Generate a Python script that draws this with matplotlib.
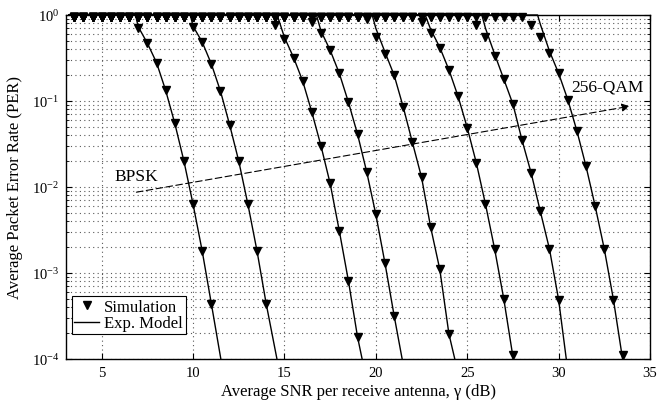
import numpy as np
import matplotlib
matplotlib.use("Agg")
import matplotlib.pyplot as plt
from matplotlib.lines import Line2D
from matplotlib.ticker import FixedLocator, FixedFormatter, LogLocator, NullFormatter

plt.rcParams['font.family'] = ['Liberation Serif', 'DejaVu Serif']
plt.rcParams['mathtext.fontset'] = 'custom'
plt.rcParams['mathtext.rm'] = 'Liberation Serif'
plt.rcParams['mathtext.it'] = 'Liberation Serif:italic'

# ---- data ----
sim_first_snr = 3.5          # first simulated SNR (dB), step 0.5 dB
sim_step = 0.5
sim_flat_per = 0.95          # PER of the saturated (top-row) simulation points
# SNR where each curve leaves the top row (simulation markers)
sim_drop_snr = [7.0, 10.0, 14.5, 16.5, 19.5, 22.5, 25.5, 28.5]
sim_drop_per = [
    [0.71, 0.47, 0.28, 0.133, 0.055, 0.02, 0.0063, 0.0018, 4.4e-4],
    [0.72, 0.485, 0.27, 0.13, 0.053, 0.02, 0.0063, 0.0018, 4.4e-4],
    [0.76, 0.53, 0.32, 0.17, 0.074, 0.030, 0.011, 0.0031, 8.1e-4, 1.8e-4],
    [0.83, 0.61, 0.39, 0.21, 0.097, 0.041, 0.015, 0.0048, 0.0013, 3.2e-4],
    [0.9, 0.55, 0.35, 0.2, 0.085, 0.033, 0.013, 0.0034, 0.0011, 1.95e-4],
    [0.83, 0.62, 0.41, 0.23, 0.113, 0.049, 0.019, 0.0063, 0.0019, 5e-4, 1.1e-4],
    [0.76, 0.55, 0.33, 0.18, 0.092, 0.035, 0.0145, 0.0052, 0.0019, 4.9e-4],
    [0.76, 0.55, 0.36, 0.21, 0.104, 0.045, 0.0174, 0.006, 0.0019, 4.9e-4, 1.1e-4],
]

model_snr = [
    [3.2, 6.85, 7.0, 7.5, 8.0, 8.5, 9.0, 9.5, 10.0, 10.5, 11.0, 11.52],
    [3.2, 9.85, 10.0, 10.5, 11.0, 11.5, 12.0, 12.5, 13.0, 13.5, 14.0, 14.59],
    [3.2, 14.6, 15.0, 15.5, 16.0, 16.5, 17.0, 17.5, 18.0, 18.5, 19.0, 19.25],
    [3.2, 16.75, 17.0, 17.5, 18.0, 18.5, 19.0, 19.5, 20.0, 20.5, 21.0, 21.44],
    [3.2, 19.8, 20.0, 20.5, 21.0, 21.5, 22.0, 22.5, 23.0, 23.5, 24.0, 24.32],
    [3.2, 22.7, 23.0, 23.5, 24.0, 24.5, 25.0, 25.5, 26.0, 26.5, 27.0, 27.52],
    [3.2, 25.8, 26.0, 26.5, 27.0, 27.5, 28.0, 28.5, 29.0, 29.5, 30.0, 30.42],
    [3.2, 28.85, 29.0, 29.5, 30.0, 30.5, 31.0, 31.5, 32.0, 32.5, 33.0, 33.5],
]
model_per = [
    [1, 1, 0.73, 0.47, 0.28, 0.133, 0.055, 0.02, 0.0063, 0.0018, 4.4e-4, 1e-4],
    [1, 1, 0.74, 0.485, 0.27, 0.13, 0.053, 0.02, 0.0063, 0.0018, 4.4e-4, 1e-4],
    [1, 1, 0.55, 0.32, 0.17, 0.074, 0.030, 0.011, 0.0031, 8.1e-4, 1.8e-4, 1e-4],
    [1, 1, 0.65, 0.39, 0.21, 0.097, 0.041, 0.015, 0.0048, 0.0013, 3.2e-4, 1e-4],
    [1, 1, 0.70, 0.37, 0.2, 0.085, 0.033, 0.013, 0.0034, 0.0011, 1.95e-4, 1e-4],
    [1, 1, 0.68, 0.42, 0.23, 0.113, 0.049, 0.019, 0.0063, 0.0019, 5e-4, 1e-4],
    [1, 1, 0.70, 0.35, 0.18, 0.092, 0.035, 0.0145, 0.0052, 0.0019, 4.9e-4, 1e-4],
    [1, 1, 0.78, 0.38, 0.21, 0.104, 0.045, 0.0174, 0.006, 0.0019, 4.9e-4, 1e-4],
]

arrow_start = (6.9, 0.0087)
arrow_end = (33.9, 0.087)
label_bpsk = ("BPSK", 5.7, 0.0133)
label_256 = ("256-QAM", 30.7, 0.147)

x_ticks = [5, 10, 15, 20, 25, 30, 35]
y_ticks = [1e-4, 1e-3, 1e-2, 1e-1, 1e0]
y_tick_labels = [r'$10^{-4}$', r'$10^{-3}$', r'$10^{-2}$', r'$10^{-1}$', r'$10^{0}$']

# ---- figure ----
fig = plt.figure(figsize=(6.67, 4.06), dpi=100)
ax = fig.add_axes([0.099, 0.1133, 0.8755, 0.8473])

for d0, dper, msnr, mper in zip(sim_drop_snr, sim_drop_per, model_snr, model_per):
    flat_x = np.arange(sim_first_snr, d0 - 1e-9, sim_step)
    drop_x = d0 + sim_step * np.arange(len(dper))
    sx = np.concatenate([flat_x, drop_x])
    sy = np.concatenate([np.full_like(flat_x, sim_flat_per), np.array(dper)])
    ax.plot(msnr, mper, color='k', lw=1.0, zorder=3, clip_on=False)
    ax.plot(sx, sy, linestyle='none', marker='v', color='k', ms=6, zorder=4,
            clip_on=False)

ax.set_yscale('log')
ax.set_xlim(3.05, 35)
ax.set_ylim(1e-4, 1)

ax.xaxis.set_major_locator(FixedLocator(x_ticks))
ax.set_xticklabels([str(t) for t in x_ticks])
ax.yaxis.set_major_locator(FixedLocator(y_ticks))
ax.yaxis.set_major_formatter(FixedFormatter(y_tick_labels))
ax.yaxis.set_minor_locator(LogLocator(base=10, subs=np.arange(2, 10)))
ax.yaxis.set_minor_formatter(NullFormatter())

ax.tick_params(which='both', direction='in', top=True, right=True, labelsize=10.5, pad=5)
ax.tick_params(which='major', length=4, width=0.8)
ax.tick_params(which='minor', length=2, width=0.6)

ax.grid(True, which='major', axis='both', linestyle=(0, (1, 3)), color='0.35', lw=0.8)
ax.grid(True, which='minor', axis='y', linestyle=(0, (1, 3)), color='0.35', lw=0.8)
ax.set_axisbelow(True)
for s in ax.spines.values():
    s.set_linewidth(1.0)

ax.set_xlabel('Average SNR per receive antenna, γ (dB)', fontsize=12, labelpad=3)
ax.set_ylabel('Average Packet Error Rate (PER)', fontsize=12, labelpad=6)

ax.annotate('', xy=arrow_end, xytext=arrow_start,
            arrowprops=dict(arrowstyle='-|>', linestyle=(0, (6, 3)), color='k',
                            lw=0.8, mutation_scale=12, shrinkA=0, shrinkB=0),
            zorder=5)
ax.text(label_bpsk[1], label_bpsk[2], label_bpsk[0], fontsize=12.5, va='center', ha='left')
ax.text(label_256[1], label_256[2], label_256[0], fontsize=12.5, va='center', ha='left')

handles = [Line2D([], [], linestyle='none', marker='v', color='k', ms=6),
           Line2D([], [], color='k', lw=1.0)]
leg = ax.legend(handles, ['Simulation', 'Exp. Model'], loc='lower left',
                bbox_to_anchor=(0.01, 0.073), borderaxespad=0, fontsize=12,
                frameon=True, fancybox=False, edgecolor='k', framealpha=1,
                handlelength=1.5, handletextpad=0.3, borderpad=0.15, labelspacing=0.05)
leg.get_frame().set_linewidth(0.8)

fig.savefig('out.png', dpi=100)
